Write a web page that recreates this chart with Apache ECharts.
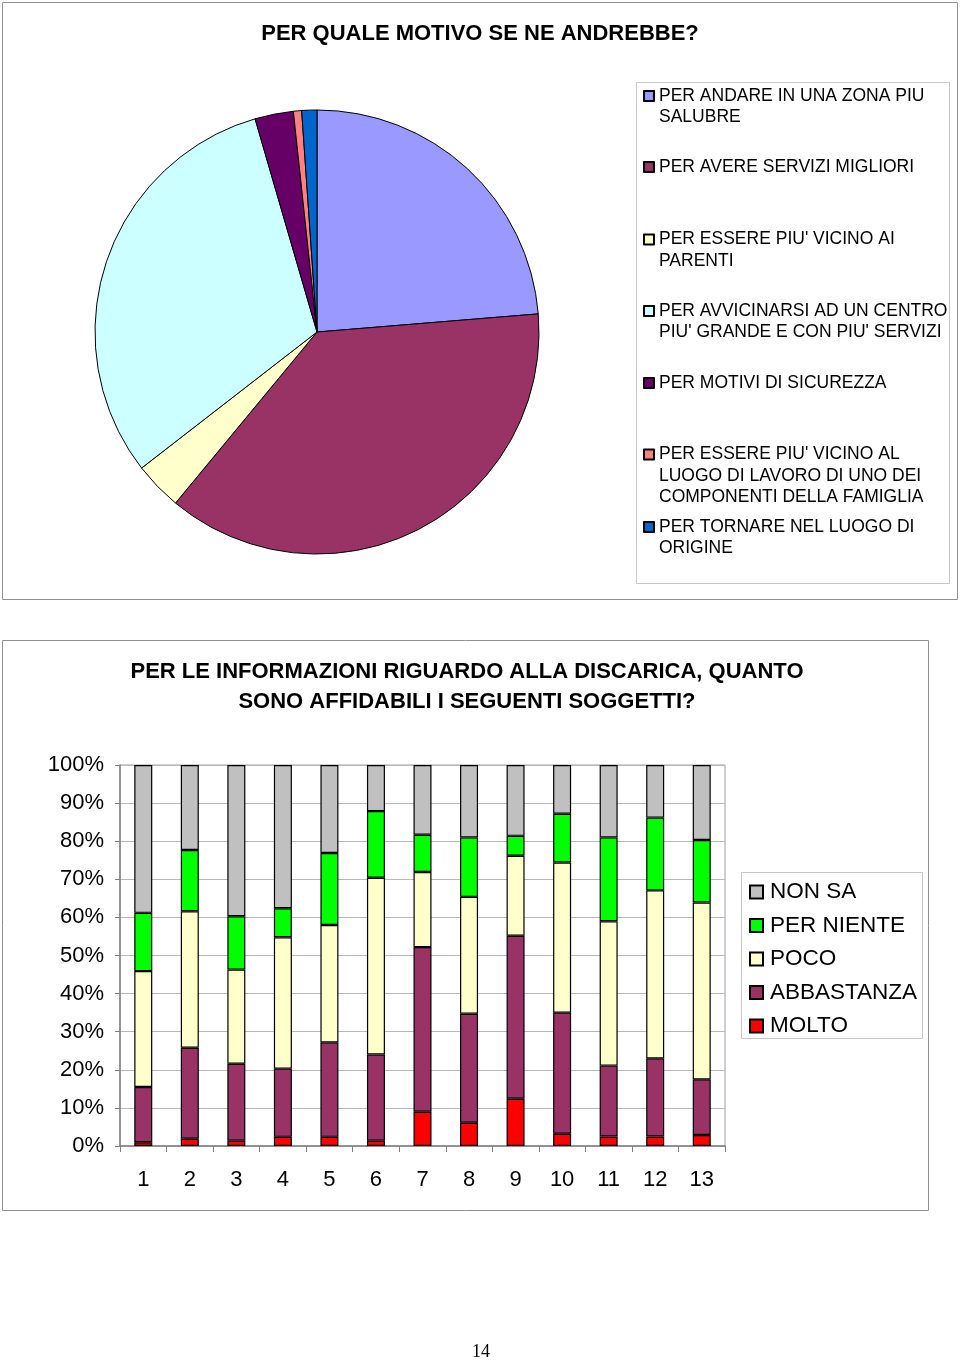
<!DOCTYPE html>
<html>
<head>
<meta charset="utf-8">
<script src="https://cdn.jsdelivr.net/npm/echarts@6/dist/echarts.min.js"></script>
<style>
html,body{margin:0;padding:0;background:#fff;}
#c{width:960px;height:1360px;}
</style>
</head>
<body>
<div id="c"></div>
<script>
// ---- Pie data ----
const pieNames = [
  'PER ANDARE IN UNA ZONA PIU\nSALUBRE',
  'PER AVERE SERVIZI MIGLIORI',
  "PER ESSERE PIU' VICINO AI\nPARENTI",
  "PER AVVICINARSI AD UN CENTRO\nPIU' GRANDE E CON PIU' SERVIZI",
  'PER MOTIVI DI SICUREZZA',
  "PER ESSERE PIU' VICINO AL\nLUOGO DI LAVORO DI UNO DEI\nCOMPONENTI DELLA FAMIGLIA",
  'PER TORNARE NEL LUOGO DI\nORIGINE'
];
const pieValues = [23.7, 37.3, 3.5, 31.0, 2.8, 0.6, 1.1];
const pieColors = ['#9999FF', '#993366', '#FFFFCC', '#CCFFFF', '#660066', '#FF8080', '#0066CC'];

// ---- Bar data ----
const barCategories = ['1','2','3','4','5','6','7','8','9','10','11','12','13'];
const molto      = [1.0, 1.9, 1.4, 2.4, 2.4, 1.4, 9.0, 6.1, 12.4, 3.2, 2.5, 2.5, 2.9];
const abbastanza = [14.5, 23.9, 20.2, 17.9, 24.8, 22.6, 43.2, 28.6, 42.8, 31.8, 18.6, 20.5, 14.6];
const poco       = [30.4, 35.8, 24.7, 34.5, 30.8, 46.4, 19.7, 30.7, 21.0, 39.4, 37.9, 44.1, 46.4];
const perNiente  = [15.3, 16.1, 14.0, 7.6, 18.9, 17.5, 9.8, 15.6, 5.2, 12.8, 22.0, 19.1, 16.4];
const nonSa      = [38.8, 22.3, 39.7, 37.6, 23.1, 12.1, 18.3, 19.0, 18.6, 12.8, 19.0, 13.8, 19.7];
const barSeriesNames = ['MOLTO', 'ABBASTANZA', 'POCO', 'PER NIENTE', 'NON SA'];
const barColors = ['#FF0000', '#993366', '#FFFFCC', '#00FF00', '#C0C0C0'];
const yTickLabels = ['0%','10%','20%','30%','40%','50%','60%','70%','80%','90%','100%'];

const FONT = 'Liberation Sans, Arial, sans-serif';
const chart = echarts.init(document.getElementById('c'));

// pie legends (one per item so the icon sits on the first text line)
const firstLineCenters = [96, 167, 239.5, 311, 383, 454.5, 527];
const LH = 21.5;
const pieLegends = pieNames.map((n, i) => {
  const lines = n.split('\n').length;
  const total = 2 * lines - 1;          // blank lines prepended so line 1 is centred on the icon
  const blockHalf = total * LH / 2;
  const pad = new Array(lines - 1).fill(' ');
  return {
    orient: 'vertical',
    left: 643,
    top: firstLineCenters[i] - blockHalf,
    padding: 0,
    itemWidth: 10,
    itemHeight: 10,
    icon: 'rect',
    selectedMode: false,
    data: [n],
    formatter: (name) => pad.concat(name.split('\n')).join('\n'),
    textStyle: {fontFamily: FONT, fontSize: 17.5, lineHeight: LH, color: '#000'}
  };
});

const barLegend = {
  orient: 'vertical',
  left: 749,
  top: 880,
  padding: 0,
  itemWidth: 13,
  itemHeight: 13,
  itemGap: 9.5,
  icon: 'rect',
  selectedMode: false,
  data: ['NON SA', 'PER NIENTE', 'POCO', 'ABBASTANZA', 'MOLTO'],
  textStyle: {fontFamily: FONT, fontSize: 22.5, lineHeight: 24, color: '#000', padding: [0, 0, 0, 2]}
};

const option = {
  animation: false,
  backgroundColor: '#fff',
  textStyle: {fontFamily: FONT},
  title: [
    {text: 'PER QUALE MOTIVO SE NE ANDREBBE?', left: 480, textAlign: 'center', top: 21, padding: 0,
     textStyle: {fontFamily: FONT, fontSize: 22, fontWeight: 'bold', color: '#000', lineHeight: 26}},
    {text: 'PER LE INFORMAZIONI RIGUARDO ALLA DISCARICA, QUANTO\nSONO AFFIDABILI I SEGUENTI SOGGETTI?',
     left: 467, textAlign: 'center', top: 657, padding: 0,
     textStyle: {fontFamily: FONT, fontSize: 22, fontWeight: 'bold', color: '#000', lineHeight: 30}}
  ],
  legend: pieLegends.concat([barLegend]),
  grid: {left: 120, right: 235, top: 765, bottom: 214, show: true, borderColor: '#a0a0a0', borderWidth: 1},
  xAxis: {
    type: 'category', data: barCategories,
    axisLine: {lineStyle: {color: '#808080', width: 1.5}},
    axisTick: {show: true, length: 6, lineStyle: {color: '#808080'}},
    axisLabel: {fontFamily: FONT, fontSize: 22, color: '#000', margin: 23}
  },
  yAxis: {
    type: 'value', min: 0, max: 100, interval: 10,
    axisLine: {show: true, lineStyle: {color: '#808080', width: 1.5}},
    axisTick: {show: true, length: 5, lineStyle: {color: '#808080'}},
    splitLine: {lineStyle: {color: '#b8b8b8', width: 1}},
    axisLabel: {fontFamily: FONT, fontSize: 22, color: '#000', margin: 16,
      formatter: (v) => yTickLabels[Math.round(v / 10)]}
  },
  series: [
    {
      type: 'pie',
      center: [317, 332],
      radius: 222,
      startAngle: 90,
      clockwise: true,
      label: {show: false},
      labelLine: {show: false},
      emphasis: {disabled: true},
      itemStyle: {borderColor: '#000', borderWidth: 1},
      data: pieNames.map((n, i) => ({name: n, value: pieValues[i], itemStyle: {color: pieColors[i]}}))
    }
  ].concat([molto, abbastanza, poco, perNiente, nonSa].map((arr, i) => ({
    type: 'bar',
    name: barSeriesNames[i],
    stack: 'total',
    barWidth: 18,
    data: arr,
    itemStyle: {color: barColors[i], borderColor: '#000', borderWidth: 1.2},
    emphasis: {disabled: true}
  }))),
  graphic: [
    {type: 'rect', shape: {x: 2.5, y: 2.5, width: 955, height: 597}, style: {fill: 'none', stroke: '#909090', lineWidth: 1}, silent: true, z: -1},
    {type: 'rect', shape: {x: 636.5, y: 82.5, width: 313, height: 501}, style: {fill: 'none', stroke: '#c8c8c8', lineWidth: 1}, silent: true},
    {type: 'rect', shape: {x: 2.5, y: 640.5, width: 926, height: 570}, style: {fill: 'none', stroke: '#909090', lineWidth: 1}, silent: true, z: -1},
    {type: 'rect', shape: {x: 741.5, y: 872.5, width: 181, height: 166}, style: {fill: 'none', stroke: '#c8c8c8', lineWidth: 1}, silent: true},
    {type: 'text', x: 481, y: 1352, style: {text: '14', font: '18px "Liberation Serif", serif', fill: '#000', textAlign: 'center', textVerticalAlign: 'middle'}, silent: true}
  ]
};
chart.setOption(option);
</script>
</body>
</html>
